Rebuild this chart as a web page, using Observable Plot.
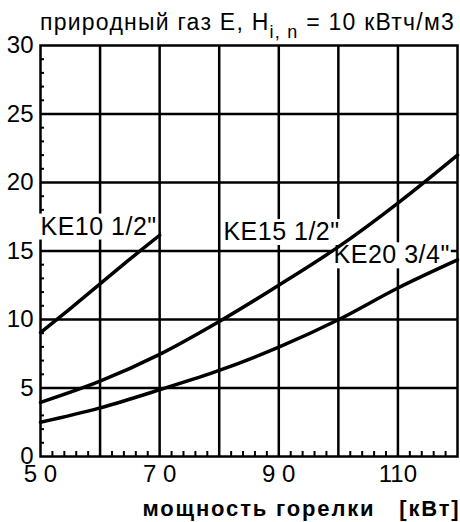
<!DOCTYPE html>
<html><head><meta charset="utf-8">
<script src="https://cdn.jsdelivr.net/npm/d3@7"></script>
<script src="https://cdn.jsdelivr.net/npm/@observablehq/plot@0.6"></script>
<style>
body{margin:0;background:#fff;font-family:"Liberation Sans",Arial,sans-serif;color:#000}
#title{position:relative;z-index:2;height:30px;width:460px;font-size:23px;line-height:22px;white-space:nowrap;padding-left:40px;box-sizing:border-box;padding-top:11px}
#title span{display:inline-block}
#title sub{font-size:18px;vertical-align:-8px;line-height:0}
</style></head><body>
<div id="title"><span id="titletext">природный газ Е, H<sub>i, n</sub> = 10 кВтч/м3</span></div>
<div id="chart"></div>
<script>
// power [kW]
const power = [50, 60, 70, 80, 90, 100, 110, 120];
const ke10Power = [50, 55, 60, 65, 70];
// pressure values
const ke10Values = [9.05, 10.8, 12.6, 14.4, 16.15];
const ke15Values = [3.95, 5.5, 7.45, 9.85, 12.5, 15.3, 18.5, 22.0];
const ke20Values = [2.5, 3.55, 4.87, 6.28, 7.98, 9.98, 12.3, 14.35];
const seriesNames = ['KE10 1/2"', 'KE15 1/2"', 'KE20 3/4"'];
const labelPower = [50, 80.7, 99.2];
const labelValue = [16.2, 15.8, 14.1];
const xTickValues = [50, 70, 90, 110];
const xTickLabels = ["5 0", "7 0", "9 0", "110"];
const yTickValues = [0, 5, 10, 15, 20, 25, 30];
const xGridValues = [60, 70, 80, 90, 100, 110];
const yGridValues = [5, 10, 15, 20, 25];
const xMinor = [52,54,56,58,62,64,66,68,72,74,76,78,82,84,86,88,92,94,96,98,102,104,106,108,112,114,116,118];
const yMinor = [1,2,3,4,6,7,8,9,11,12,13,14,16,17,18,19,21,22,23,24,26,27,28,29];
const xTitle = "мощность горелки   [кВт]";

const rows = [
  ...ke10Power.map((x, i) => ({x, y: ke10Values[i], s: seriesNames[0]})),
  ...power.map((x, i) => ({x, y: ke15Values[i], s: seriesNames[1]})),
  ...power.map((x, i) => ({x, y: ke20Values[i], s: seriesNames[2]}))
];
const labels = seriesNames.map((name, i) => ({name, x: labelPower[i], y: labelValue[i]}));

const chart = Plot.plot({
  width: 460, height: 492,
  marginTop: 15, marginLeft: 40, marginRight: 3, marginBottom: 66,
  x: {domain: [50, 120]},
  y: {domain: [0, 30]},
  style: {fontFamily: '"Liberation Sans", Arial, sans-serif', color: "black", background: "transparent", overflow: "visible"},
  marks: [
    Plot.gridX(xGridValues, {stroke: "black", strokeOpacity: 1, strokeWidth: 2.5}),
    Plot.gridY(yGridValues, {stroke: "black", strokeOpacity: 1, strokeWidth: 2.5}),
    Plot.frame({stroke: "black", strokeWidth: 2.5}),
    Plot.axisX({ticks: xMinor, tickSize: -5, tickFormat: () => "", label: null, strokeWidth: 2}),
    Plot.axisY({ticks: yMinor, tickSize: -4, tickFormat: () => "", label: null, strokeWidth: 2}),
    Plot.axisX({ticks: xTickValues, tickSize: 0, tickPadding: 8, fontSize: 24, label: null,
      tickFormat: d => xTickLabels[xTickValues.indexOf(d)]}),
    Plot.axisY({ticks: yTickValues, tickSize: 0, tickPadding: 7, fontSize: 24, label: null}),
    Plot.text(labels, {x: "x", y: "y", text: "name", textAnchor: "start", lineAnchor: "bottom", fontSize: 25, fill: "white"}),
    Plot.line(rows, {x: "x", y: "y", z: "s", stroke: "black", strokeWidth: 3.5, curve: "catmull-rom"}),
    Plot.text(labels, {x: "x", y: "y", text: "name", textAnchor: "start", lineAnchor: "bottom", fontSize: 25, fill: "black"}),
    Plot.text([xTitle], {frameAnchor: "bottom-right", dx: 3, dy: 59, textAnchor: "end", lineAnchor: "bottom", fontSize: 22, fontWeight: "bold", fill: "black"})
  ]
});
document.getElementById("chart").appendChild(chart);
const svg = d3.select(chart);
// widen label glyph spacing like the reference
svg.selectAll("text").filter(function() { return seriesNames.includes(this.textContent); })
  .style("letter-spacing", "0.5px");
// white boxes behind series labels
svg.selectAll('g[fill="white"] text').filter(function() { return seriesNames.includes(this.textContent); }).each(function() {
  const b = this.getBBox();
  d3.select(this.parentNode).insert("rect", () => this)
    .attr("x", b.x - 2).attr("y", b.y + 2).attr("width", b.width + 3).attr("height", b.height - 2)
    .attr("transform", this.getAttribute("transform"))
    .attr("fill", "white");
});
// x-axis title spacing
svg.selectAll("text").filter(function() { return this.textContent === xTitle; }).each(function() {
  this.style.whiteSpace = "pre";
  const len = this.getComputedTextLength();
  const ls = (318 - len) / xTitle.length;
  this.style.letterSpacing = ls + "px";
});
// title spacing
const tt = document.getElementById("titletext");
const w = tt.getBoundingClientRect().width;
const n = tt.textContent.length;
tt.style.letterSpacing = ((415 - w) / n) + "px";
</script>
</body></html>
